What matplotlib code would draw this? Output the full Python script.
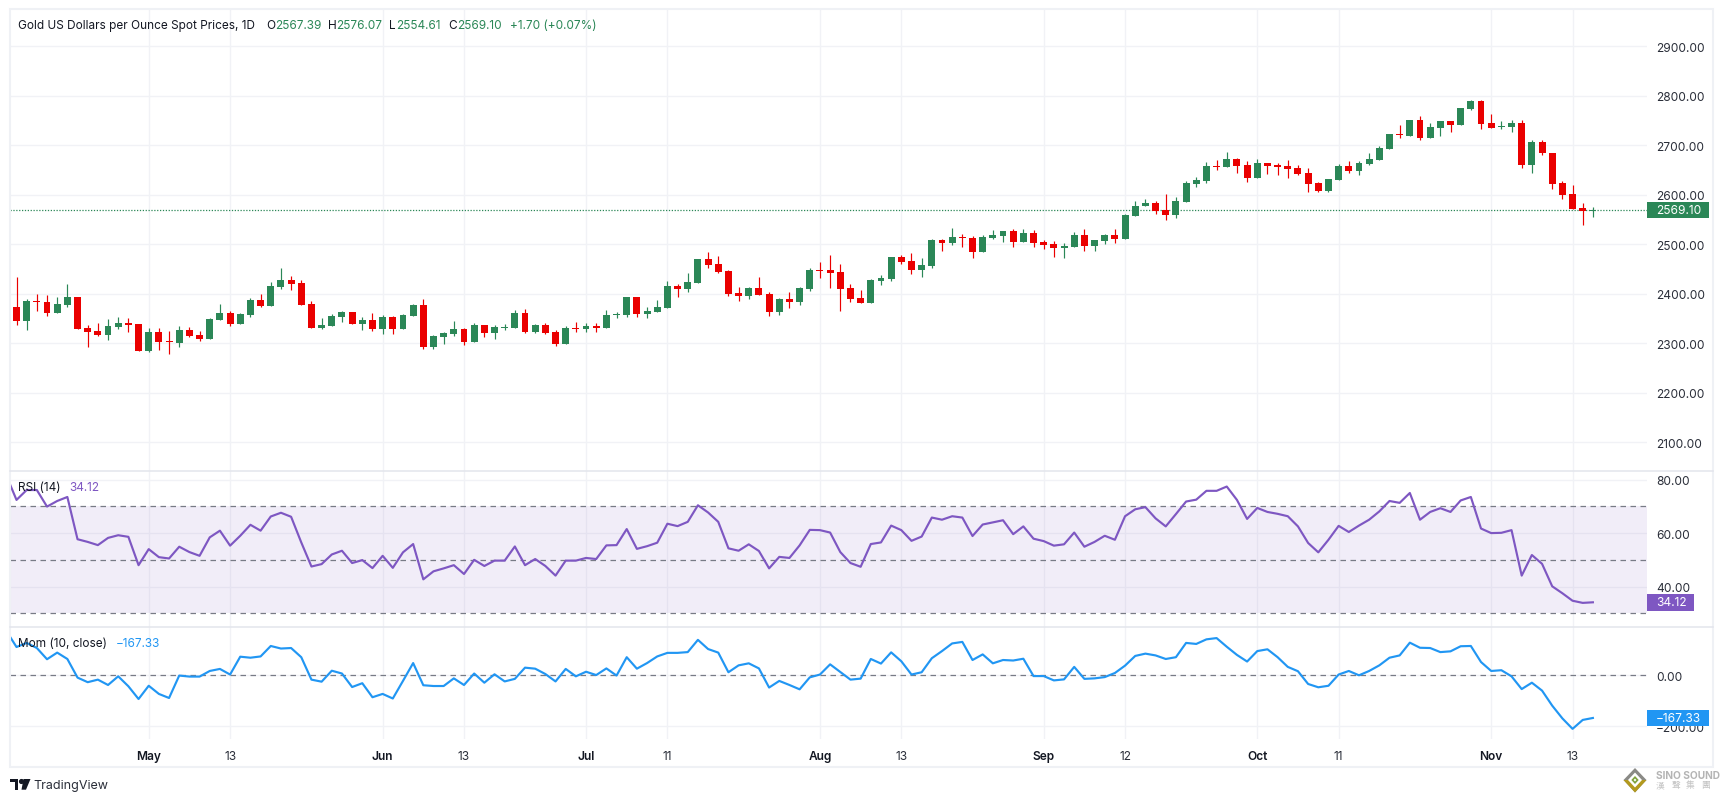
import matplotlib
matplotlib.use("Agg")
import numpy as np
import matplotlib.pyplot as plt
from matplotlib.patches import Polygon, Rectangle

opens = [2374,2344,2386,2384,2362,2378,2394,2330,2324,2316,
         2332,2340,2338,2285,2322,2305,2301,2326,2316,2309,
         2346,2362,2338,2358,2388,2376,2414,2428,2422,2380,
         2330,2334,2354,2364,2338,2346,2328,2354,2328,2356,
         2378,2293,2312,2318,2328,2303,2336,2320,2330,2330,
         2362,2322,2336,2322,2299,2330,2328,2334,2330,2358,
         2358,2394,2360,2364,2372,2416,2410,2422,2470,2460,
         2446,2402,2396,2412,2400,2364,2390,2384,2410,2448,
         2448,2444,2412,2392,2382,2426,2430,2475,2466,2448,
         2456,2509,2503,2515,2513,2485,2513,2517,2527,2505,
         2523,2505,2501,2493,2495,2519,2497,2507,2519,2511,
         2556,2577,2583,2570,2558,2585,2621,2627,2657,2655,
         2673,2659,2633,2663,2659,2657,2653,2643,2623,2607,
         2629,2657,2647,2661,2671,2692,2722,2718,2750,2714,
         2734,2748,2740,2772,2789,2744,2736,2736,2744,2659,
         2706,2685,2623,2601,2574,2567.39]
highs = [2434,2390,2400,2398,2394,2420,2394,2336,2340,2348,
         2354,2350,2338,2330,2330,2324,2334,2332,2324,2350,
         2380,2366,2362,2392,2400,2424,2452,2436,2428,2386,
         2350,2360,2366,2364,2354,2362,2358,2356,2360,2380,
         2390,2316,2322,2344,2330,2340,2336,2336,2338,2368,
         2370,2338,2340,2326,2334,2342,2340,2340,2368,2364,
         2394,2394,2374,2388,2426,2420,2442,2470,2485,2477,
         2448,2414,2414,2434,2404,2392,2404,2414,2452,2464,
         2479,2460,2420,2408,2430,2438,2475,2479,2483,2472,
         2511,2511,2533,2521,2517,2519,2529,2527,2531,2531,
         2529,2509,2507,2503,2525,2531,2509,2521,2531,2561,
         2587,2591,2587,2601,2595,2627,2635,2665,2671,2686,
         2675,2667,2673,2663,2663,2671,2659,2653,2625,2631,
         2661,2667,2669,2685,2698,2722,2740,2750,2758,2744,
         2748,2748,2774,2791,2791,2762,2748,2750,2750,2710,
         2710,2685,2627,2619,2583,2576.07]
lows = [2336,2326,2366,2356,2362,2374,2328,2293,2314,2307,
        2328,2322,2285,2283,2287,2279,2293,2312,2305,2309,
        2346,2334,2338,2354,2374,2376,2410,2408,2378,2330,
        2328,2334,2342,2338,2326,2324,2318,2318,2328,2356,
        2289,2289,2299,2314,2297,2303,2312,2309,2326,2330,
        2320,2320,2318,2295,2299,2322,2322,2322,2330,2352,
        2354,2354,2352,2364,2372,2394,2404,2422,2452,2442,
        2396,2386,2390,2398,2356,2358,2372,2378,2406,2432,
        2412,2366,2384,2382,2382,2418,2426,2460,2440,2434,
        2452,2487,2499,2495,2472,2485,2511,2505,2495,2505,
        2495,2491,2475,2472,2495,2487,2487,2501,2503,2511,
        2556,2577,2560,2548,2552,2585,2615,2623,2649,2655,
        2643,2625,2633,2641,2639,2633,2639,2605,2605,2605,
        2629,2643,2639,2659,2671,2692,2714,2718,2710,2714,
        2718,2726,2740,2770,2732,2734,2732,2726,2653,2643,
        2681,2611,2591,2572,2538,2554.61]
closes = [2344,2386,2384,2362,2380,2394,2328,2322,2316,2334,
          2340,2336,2285,2322,2303,2303,2326,2314,2309,2348,
          2362,2338,2360,2388,2376,2416,2428,2420,2378,2330,
          2336,2356,2364,2338,2346,2328,2354,2328,2358,2378,
          2293,2314,2320,2328,2303,2336,2320,2332,2332,2362,
          2322,2336,2320,2299,2330,2328,2334,2330,2358,2360,
          2394,2360,2366,2374,2416,2410,2424,2470,2458,2444,
          2400,2396,2412,2398,2364,2390,2384,2412,2448,2446,
          2442,2410,2390,2382,2428,2432,2475,2464,2448,2458,
          2509,2503,2515,2513,2485,2515,2519,2527,2505,2523,
          2503,2499,2493,2497,2519,2497,2509,2519,2511,2559,
          2578,2583,2568,2558,2587,2623,2629,2657,2655,2673,
          2657,2633,2663,2657,2655,2651,2641,2621,2607,2631,
          2657,2647,2663,2673,2694,2722,2720,2750,2714,2736,
          2748,2740,2774,2789,2742,2734,2738,2744,2659,2706,
          2684,2621,2599,2572,2567,2569.10]

# rsi and mom start one bar before the first candle (clipped by the pane edge)
rsi = [81.5,72.4,76.1,76.1,69.9,72.0,73.5,57.7,56.7,55.5,58.2,
       59.2,58.6,48.0,54.0,51.0,50.5,54.9,52.9,51.5,58.4,
       60.9,55.3,59.0,63.1,60.9,66.2,67.6,66.1,56.5,47.5,
       48.4,52.0,53.4,48.8,49.9,46.9,51.5,47.0,52.8,55.9,
       42.7,45.7,46.8,48.0,44.7,50.0,47.7,49.7,49.7,55.0,
       48.0,50.3,47.7,44.1,49.7,49.7,50.7,50.3,55.4,55.5,
       61.5,54.1,55.1,56.4,63.5,62.6,64.2,70.4,67.7,64.2,
       54.3,53.4,55.8,53.3,46.8,51.1,50.7,55.4,61.2,61.1,
       60.2,52.9,48.8,47.4,55.9,56.5,62.8,61.1,57.1,58.7,
       65.8,65.0,66.3,65.8,58.9,63.2,64.0,64.8,59.6,62.5,
       57.9,57.0,55.3,55.8,60.2,54.9,56.7,59.0,57.5,66.3,
       68.9,69.7,65.5,62.5,67.1,71.8,72.5,75.8,75.8,77.4,
       72.4,65.3,69.4,67.9,67.2,66.3,62.5,56.3,52.8,57.5,
       62.7,60.4,62.8,65.0,68.1,72.0,71.3,75.0,65.0,67.9,
       69.3,67.9,72.2,73.5,61.7,60.0,60.1,61.1,44.1,51.8,
       48.5,40.1,37.5,34.7,33.9,34.12]
mom = [174,111,127,107,63,89,64,-9,-27,-17,-38,
       -4,-43,-93,-41,-73,-89,-1,-5,-5,17,
       25,3,73,69,74,115,105,107,71,-17,
       -25,18,7,-46,-31,-86,-73,-91,-22,48,
       -39,-42,-42,-12,-38,7,-29,4,-24,-14,
       30,26,5,-24,25,-4,14,1,27,-1,
       71,26,48,74,88,88,91,139,103,89,
       12,39,47,27,-48,-22,-38,-55,-8,3,
       43,13,-17,-13,64,46,90,55,3,12,
       67,95,125,131,60,82,47,60,58,65,
       -3,-3,-20,-16,33,-14,-12,-7,9,38,
       76,85,78,64,71,127,123,141,146,112,
       80,54,95,102,71,33,16,-34,-47,-41,
       3,17,0,17,39,69,78,128,108,107,
       91,94,114,115,52,17,20,-4,-54,-29,
       -60,-119,-169,-210,-175,-167.33]

tick_idx = [13, 21, 36, 44, 56, 64, 79, 87, 101, 109, 122, 130, 145, 153]
tick_labels = ["May", "13", "Jun", "13", "Jul", "11", "Aug", "13",
               "Sep", "12", "Oct", "11", "Nov", "13"]
price_ticks = [2100, 2200, 2300, 2400, 2500, 2600, 2700, 2800, 2900]
rsi_ticks = [40, 60, 80]
mom_ticks = [-200, 0]

W, H = 1723, 803
GREEN = "#2b8757"
RED = "#ea0000"
PURPLE = "#7e57c2"
BLUE = "#2196f3"
GRID = "#f1f2f6"
BORDER = "#e3e5ec"
DARK = "#131722"
FS = 8.6

plt.rcParams["font.family"] = ["Inter", "Noto Sans CJK TC", "DejaVu Sans"]

fig = plt.figure(figsize=(W / 100, H / 100), dpi=100, facecolor="white")


def pane(top, bottom, ylim):
    # pixel box -> figure axes
    ax = fig.add_axes([10 / W, 1 - bottom / H, (1647 - 10) / W, (bottom - top) / H])
    ax.set_xlim(-0.64, 160.32)
    ax.set_ylim(*ylim)
    for s in ax.spines.values():
        s.set_visible(False)
    ax.set_axisbelow(True)
    ax.grid(True, color=GRID, lw=1)
    ax.set_xticks(tick_idx)
    ax.yaxis.tick_right()
    ax.tick_params(axis="both", length=0, labelsize=FS, labelcolor="#2a2e39")
    ax.tick_params(axis="y", pad=6.5)
    ax.tick_params(axis="x", labelbottom=False)
    return ax


def fig_text(px, py, s, **kw):
    kw.setdefault("fontsize", 8.5)
    kw.setdefault("color", DARK)
    kw.setdefault("va", "center")
    return fig.text(px / W, 1 - py / H, s, **kw)


def value_tag(ax, value, text, color, width_px):
    # coloured tag on the scale, centred on the last value
    y0, y1 = ax.get_ylim()
    h_px = ax.get_position().height * H
    h = 16.7 * (y1 - y0) / h_px
    w = width_px / (ax.get_position().width * W)
    ax.add_patch(Rectangle((1, value - h / 2), w, h, transform=ax.get_yaxis_transform(),
                           facecolor=color, edgecolor="none", clip_on=False, zorder=6))
    ax.text(1 + 9 / (ax.get_position().width * W), value, text, color="white", fontsize=FS,
            transform=ax.get_yaxis_transform(), va="center", ha="left", zorder=7, clip_on=False)


ax1 = pane(9.5, 471.5, (2043.1, 2975.9))
ax2 = pane(471.5, 627.5, (25.07, 83.4))
ax3 = pane(627.5, 740, (-249.8, 191.4))

# candles
x = np.arange(len(closes))
o, h, l, c = map(np.array, (opens, highs, lows, closes))
colors = [GREEN if cc >= oo else RED for oo, cc in zip(o, c)]
ax1.vlines(x, l, h, colors=colors, lw=0.85, zorder=3)
ax1.bar(x, np.maximum(np.abs(c - o), 1.5), bottom=np.minimum(o, c), width=0.68, color=colors, lw=0, zorder=4)
ax1.axhline(closes[-1], color=GREEN, lw=0.9, dashes=(1, 1.3), zorder=2)
ax1.set_yticks(price_ticks)
ax1.set_yticklabels([f"{v:.2f}" for v in price_ticks])
value_tag(ax1, closes[-1], f"{closes[-1]:.2f}", GREEN, 62)

# RSI pane
ax2.axhspan(30, 70, facecolor=PURPLE, alpha=0.1, lw=0, zorder=1)
for lev in (70, 50, 30):
    ax2.axhline(lev, color="#787b86", lw=0.9, dashes=(4.4, 3.6), zorder=2)
ax2.plot(np.arange(-1, len(closes)), rsi, color=PURPLE, lw=1.55, zorder=4)
ax2.set_yticks(rsi_ticks)
ax2.set_yticklabels([f"{v:.2f}" for v in rsi_ticks])
value_tag(ax2, rsi[-1], f"{rsi[-1]:.2f}", PURPLE, 47)

# momentum pane
ax3.axhline(0, color="#787b86", lw=0.9, dashes=(4.4, 3.6), zorder=2)
ax3.plot(np.arange(-1, len(closes)), mom, color=BLUE, lw=1.55, zorder=4)
ax3.set_yticks(mom_ticks)
ax3.set_yticklabels([f"{v:.2f}".replace("-", "\u2212") for v in mom_ticks])
value_tag(ax3, mom[-1], f"{mom[-1]:.2f}".replace("-", "\u2212"), BLUE, 62)

# time scale labels
for idx, lab in zip(tick_idx, tick_labels):
    bold = lab.isalpha()
    ax3.annotate(lab, xy=(idx, 0), xycoords=ax3.get_xaxis_transform(), xytext=(0, -16.6 * 0.72),
                 textcoords="offset points", ha="center", va="center", fontsize=FS,
                 color=DARK if bold else "#2a2e39", fontweight="semibold" if bold else "normal")

# frame and pane separators go on top
frame = Rectangle((10 / W, 1 - 767.7 / H), (1713 - 10) / W, (767.7 - 9.5) / H, transform=fig.transFigure,
                  facecolor="none", edgecolor="#eff1f5", lw=1.5, zorder=10)
fig.add_artist(frame)
for py in (471.5, 627.5):
    fig.add_artist(plt.Line2D([10 / W, 1713 / W], [1 - py / H, 1 - py / H], color=BORDER, lw=1.1, zorder=10))

# legends
fig_text(18.5, 26, "Gold US Dollars per Ounce Spot Prices, 1D")
for px, lab, pv, val in [(266, "O", 275, "2567.39"), (328, "H", 336, "2576.07"),
                         (389, "L", 396, "2554.61"), (448.6, "C", 457, "2569.10")]:
    fig_text(px, 26, lab)
    fig_text(pv, 26, val, color=GREEN)
fig_text(510, 26, "+1.70 (+0.07%)", color=GREEN)
fig_text(18.4, 487.7, "RSI (14)")
fig_text(69.6, 487.7, "34.12", color=PURPLE)
fig_text(18.4, 643.7, "Mom (10, close)")
fig_text(115.6, 643.7, "\u2212167.33", color=BLUE)


def fig_poly(pts, color):
    fig.add_artist(Polygon([(px / W, 1 - py / H) for px, py in pts], closed=True, facecolor=color,
                           edgecolor="none", transform=fig.transFigure))


# TradingView logo
fig_poly([(10, 780), (18.3, 780), (18.3, 790.7), (14.5, 790.7), (14.5, 783.4), (10, 783.4)], DARK)
fig.add_artist(plt.Line2D([20.6 / W], [1 - 782.2 / H], marker="o", ms=2.7, color=DARK, lw=0))
fig_poly([(23.5, 780), (30.5, 780), (26, 790.7), (21.5, 790.7)], DARK)
fig_text(33.7, 786, "TradingView", fontsize=9.0, color="#2a2e39")

# Sino Sound watermark
fig_poly([(1635, 769), (1646.5, 781), (1635, 793.5), (1623.5, 781)], "#8a8a86")
fig_poly([(1623.5, 781), (1635, 793.5), (1646.5, 781), (1641, 781), (1635, 787.5), (1629, 781)], "#b39a1e")
fig_poly([(1635, 773.5), (1642, 781), (1635, 788.5), (1628, 781)], "white")
fig_poly([(1635, 777), (1638.7, 781), (1635, 785), (1631.3, 781)], "#7fa33c")
fig_poly([(1635, 779.5), (1636.4, 781), (1635, 782.5), (1633.6, 781)], "white")
fig_text(1655.7, 776, "SINO SOUND", fontsize=7.3, color="#b4b4b4", fontweight="bold")
for px, ch in zip((1660, 1676, 1690, 1705), "\u6f22\u8072\u96c6\u5718"):
    fig_text(px, 785.7, ch, fontsize=6.3, color="#c4c4c4", ha="center")

fig.savefig("out.png", dpi=100)
